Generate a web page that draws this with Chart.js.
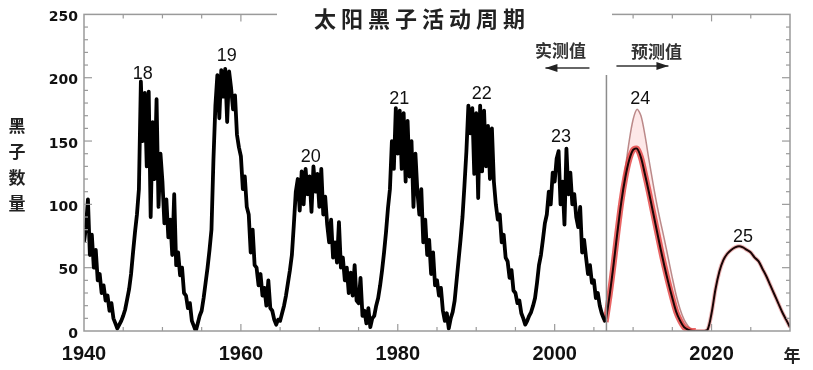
<!DOCTYPE html>
<html>
<head>
<meta charset="utf-8">
<script src="https://cdn.jsdelivr.net/npm/chart.js@4.4.1/dist/chart.umd.min.js"></script>
<style>
  html, body { margin: 0; padding: 0; background: #fff; }
  canvas { display: block; }
</style>
</head>
<body>
<canvas id="sunspotChart" width="813" height="370"></canvas>
<script>
// observed sunspot numbers, 4 per year from 1940.0
const observedStart = 1940;
const observedStep = 0.25;
const observedValues = [
  70, 82, 104, 60,   76, 50, 64, 40,   45, 30, 36, 24,   28, 16, 22, 10,
  6, 2, 5, 8,        12, 17, 25, 33,   45, 62, 78, 92,   112, 197, 150, 188,
  130, 189, 90, 165, 120, 183, 98, 140, 118, 85, 104, 74, 88, 60, 108, 52,
  62, 44, 50, 30,    28, 18, 22, 8,    4, 0, 6, 12,      16, 26, 38, 50,
  64, 80, 135, 178,  202, 168, 206, 185, 207, 165, 205, 192, 175, 186, 155, 145,
  138, 112, 122, 98, 92, 62, 80, 52,   50, 36, 45, 28,   34, 20, 40, 18,
  16, 9, 5, 9,       8, 14, 20, 28,    38, 48, 60, 84,   110, 120, 95, 126,
  100, 128, 108, 122, 94, 130, 110, 124, 98, 128, 92, 106, 84, 70, 88, 58,
  70, 54, 86, 50,    58, 40, 50, 30,   46, 28, 52, 24,   22, 42, 12, 16,
  6, 18, 3, 10,      12, 20, 26, 36,   48, 62, 78, 97,   112, 150, 128, 176,
  140, 174, 128, 172, 118, 166, 122, 150, 98, 140, 110, 92, 112, 70, 88, 60,
  72, 45, 62, 36,    40, 28, 34, 16,   8, 14, 2, 10,     15, 24, 40, 56,
  72, 90, 115, 142,  178, 156, 176, 124, 172, 105, 178, 126, 174, 130, 162, 120,
  160, 118, 100, 88, 92, 70, 76, 58,   55, 42, 48, 32,   30, 22, 24, 14,
  10, 5, 8, 12,      15, 20, 26, 38,   52, 60, 72, 85,   92, 110, 100, 125,
  118, 136, 142, 100, 118, 84, 144, 108, 125, 100, 108, 90, 82, 98, 62, 72,
  58, 45, 52, 38,    40, 26, 30, 20,   14, 10, 7
];

// predicted cycle 24: upper and lower estimate
const pred24Years = [
  2006.5, 2007, 2007.5, 2008, 2008.5, 2009, 2009.5, 2010, 2010.5, 2011, 2011.5, 2012,
  2012.5, 2013, 2013.5, 2014, 2014.5, 2015, 2015.5, 2016, 2016.5, 2017, 2017.5, 2018
];
const pred24High = [
  7, 28, 52, 78, 104, 128, 150, 167, 175, 170, 155, 136,
  118, 101, 86, 72, 57, 42, 28, 17, 9, 4, 1, 0
];
const pred24Low = [
  7, 28, 52, 78, 102, 121, 135, 143, 144, 137, 124, 110,
  95, 80, 65, 51, 38, 26, 15, 8, 3, 1, 0, 0
];

// predicted cycle 25
const pred25Years = [
  2018, 2018.5, 2019, 2019.5, 2020, 2020.5, 2021, 2021.5, 2022, 2022.5, 2023, 2023.5,
  2024, 2024.5, 2025, 2025.5, 2026, 2026.5, 2027, 2027.5, 2028, 2028.5, 2029, 2029.5, 2030
];
const pred25Values = [
  0, 0, 0, 1, 14, 33, 47, 56, 61, 64, 66, 67,
  66, 64, 62, 58, 55, 49, 43, 36, 29, 22, 15, 9, 3
];

const xTickLabels = [1940, 1960, 1980, 2000, 2020];

const cycleNames = ["18", "19", "20", "21", "22", "23", "24", "25"];
const cycleLabelYears = [1947.5, 1958.2, 1968.9, 1980.2, 1990.7, 2000.8, 2010.9, 2024.0];
const cycleLabelValues = [203, 217, 137, 183, 187, 153, 183, 74];

const dividerYear = 2006.6;

function toPoints(xs, ys) {
  return ys.map((y, i) => ({ x: xs[i], y: y }));
}

const observedYears = observedValues.map((v, i) => observedStart + i * observedStep);

function drawLine(ctx, x1, y1, x2, y2) {
  ctx.beginPath();
  ctx.moveTo(x1, y1);
  ctx.lineTo(x2, y2);
  ctx.stroke();
}

function drawArrow(ctx, x1, x2, y, headAtLeft) {
  drawLine(ctx, x1, y, x2, y);
  const hx = headAtLeft ? x1 : x2;
  const dir = headAtLeft ? 1 : -1;
  ctx.beginPath();
  ctx.moveTo(hx, y);
  ctx.lineTo(hx + dir * 12, y - 4);
  ctx.lineTo(hx + dir * 12, y + 4);
  ctx.closePath();
  ctx.fill();
}

const decorations = {
  id: "decorations",
  afterDatasetsDraw(chart) {
    const { ctx, chartArea, scales } = chart;
    const { left, right, top, bottom } = chartArea;

    ctx.save();

    // frame and inward ticks
    ctx.strokeStyle = "#9a9a9a";
    ctx.lineWidth = 1.5;
    ctx.strokeRect(left, top, right - left, bottom - top);

    ctx.lineWidth = 1.2;
    for (let v = 10; v < 250; v += 10) {
      const y = scales.y.getPixelForValue(v);
      const len = v % 50 === 0 ? 8 : 4;
      drawLine(ctx, left, y, left + len, y);
      drawLine(ctx, right, y, right - len, y);
    }
    for (let yr = 1945; yr < 2030; yr += 5) {
      const x = scales.x.getPixelForValue(yr);
      const len = yr % 20 === 0 ? 7 : 4;
      drawLine(ctx, x, bottom, x, bottom - len);
      drawLine(ctx, x, top, x, top + len);
    }

    // divider between measured and predicted
    const dx = scales.x.getPixelForValue(dividerYear);
    ctx.strokeStyle = "#8c8c8c";
    ctx.lineWidth = 1.5;
    drawLine(ctx, dx, 75, dx, bottom);

    // title box over the top border
    ctx.fillStyle = "#ffffff";
    ctx.fillRect(277, 0, 335, 28);

    ctx.fillStyle = "#222";
    ctx.textAlign = "center";
    ctx.textBaseline = "middle";
    ctx.font = "bold 22px 'Noto Sans CJK SC'";
    ctx.letterSpacing = "5px";
    ctx.fillText("太阳黑子活动周期", 422, 19);
    ctx.letterSpacing = "0px";

    ctx.font = "bold 17px 'Noto Sans CJK SC'";
    ctx.fillStyle = "#333";
    ctx.fillText("实测值", dx - 46, 51);
    ctx.fillText("预测值", dx + 50, 52);

    ctx.strokeStyle = "#333";
    ctx.fillStyle = "#222";
    ctx.lineWidth = 1.5;
    drawArrow(ctx, dx - 61, dx - 17, 68, true);
    drawArrow(ctx, dx + 10, dx + 62, 66, false);

    // cycle numbers
    ctx.fillStyle = "#111";
    ctx.font = "18px 'Liberation Sans', Arial, sans-serif";
    cycleNames.forEach((name, i) => {
      ctx.fillText(
        name,
        scales.x.getPixelForValue(cycleLabelYears[i]),
        scales.y.getPixelForValue(cycleLabelValues[i])
      );
    });

    // axis titles
    ctx.font = "bold 17px 'Noto Sans CJK SC'";
    ctx.fillStyle = "#222";
    ["黑", "子", "数", "量"].forEach((ch, i) => {
      ctx.fillText(ch, 17, 126 + i * 26);
    });
    ctx.fillText("年", 792, 356);

    ctx.restore();
  },
};

new Chart(document.getElementById("sunspotChart"), {
  type: "line",
  data: {
    datasets: [
      {
        label: "observed",
        data: toPoints(observedYears, observedValues),
        borderColor: "#000000",
        borderWidth: 3.8,
        borderJoinStyle: "round",
        pointRadius: 0,
        tension: 0,
        order: 1,
      },
      {
        label: "cycle 24 high",
        data: toPoints(pred24Years, pred24High),
        borderColor: "rgba(180,125,125,0.9)",
        borderWidth: 1.5,
        backgroundColor: "rgba(245,150,150,0.22)",
        fill: "+1",
        pointRadius: 0,
        tension: 0.3,
        order: 4,
      },
      {
        label: "cycle 24 low band",
        data: toPoints(pred24Years, pred24Low),
        borderColor: "rgba(225,50,50,0.75)",
        borderWidth: 6,
        pointRadius: 0,
        tension: 0.3,
        order: 3,
      },
      {
        label: "cycle 24 low",
        data: toPoints(pred24Years, pred24Low),
        borderColor: "#1a0505",
        borderWidth: 2,
        pointRadius: 0,
        tension: 0.3,
        order: 2,
      },
      {
        label: "cycle 25 band",
        data: toPoints(pred25Years, pred25Values),
        borderColor: "rgba(200,40,40,0.35)",
        borderWidth: 4,
        pointRadius: 0,
        tension: 0.3,
        order: 3,
      },
      {
        label: "cycle 25",
        data: toPoints(pred25Years, pred25Values),
        borderColor: "#1a0505",
        borderWidth: 2,
        pointRadius: 0,
        tension: 0.3,
        order: 2,
      },
    ],
  },
  options: {
    responsive: false,
    animation: false,
    devicePixelRatio: 1,
    layout: {
      padding: { top: 12, right: 23, bottom: 0, left: 0 },
    },
    plugins: {
      legend: { display: false },
      tooltip: { enabled: false },
    },
    scales: {
      x: {
        type: "linear",
        min: 1940,
        max: 2030,
        grid: { display: false, drawTicks: false },
        border: { display: false },
        afterFit: (scale) => {
          scale.height = 39;
        },
        ticks: {
          stepSize: 20,
          padding: 11,
          color: "#111",
          font: { family: "'Liberation Sans', Arial, sans-serif", size: 20, weight: "bold" },
          callback: (value) => (xTickLabels.includes(value) ? String(value) : ""),
        },
      },
      y: {
        min: 0,
        max: 250,
        grid: { display: false, drawTicks: false },
        border: { display: false },
        afterFit: (scale) => {
          scale.width = 84;
        },
        ticks: {
          stepSize: 50,
          padding: 6,
          labelOffset: 3,
          color: "#111",
          font: { family: "'DejaVu Sans', sans-serif", size: 14, weight: "bold" },
        },
      },
    },
  },
  plugins: [decorations],
});
</script>
</body>
</html>
